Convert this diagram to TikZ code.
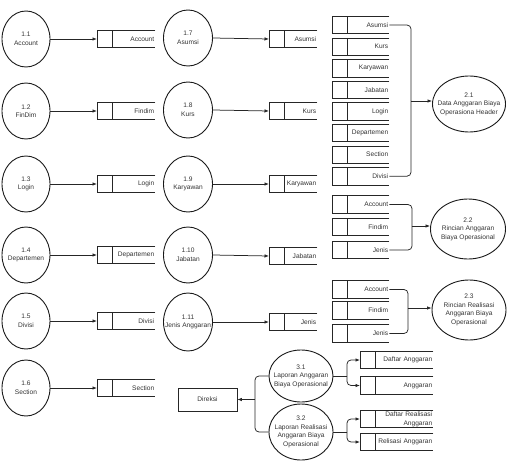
\documentclass[tikz,border=0pt]{standalone}
\usepackage{fontspec}
\setmainfont{Liberation Sans}
\usetikzlibrary{shapes.geometric,arrows.meta,calc}
\newcommand\lbl{\fontsize{6.6}{8.6}\selectfont}
\tikzset{
 ln/.style={draw=black!85, line width=0.75pt},
 rc/.style={rounded corners=4pt},
 arr/.style={ln, -{Latex[length=4.5pt,width=3.5pt]}},
 proc/.style={ellipse, draw=black!90, line width=0.9pt, inner sep=0pt},
 ptext/.style={inner sep=0pt, align=center, font=\lbl, text=black!80},
 storetext/.style={inner sep=1pt, minimum height=17pt, align=right, font=\lbl, text=black!80, anchor=west},
 extbox/.style={rectangle, draw=black!85, line width=0.75pt, minimum width=59pt, minimum height=23pt, font=\lbl, text=black!80},
}
\newcommand\dproc[6]{% name, x, y, w, h, text
 \node[proc, minimum width=#4pt, minimum height=#5pt] (#1) at (#2,#3) {};
 \node[ptext] (#1t) at (#1.center) {#6};
}
\newcommand\dstore[5]{%
 \node[storetext, text width=#4pt-2pt] (#1) at (#2,#3) {#5};
 \draw[ln] (#1.north east) -- (#1.north west) -- (#1.south west) -- (#1.south east);
 \draw[ln] ([xshift=15pt]#1.north west) -- ([xshift=15pt]#1.south west);
}
\begin{document}
\begin{tikzpicture}[x=1pt,y=-1pt]
\useasboundingbox (0,0) rectangle (510,465);
% left column processes
\dproc{c11}{26}{39}{48}{56}{1.1\\Account}
\dproc{c12}{26}{111}{48}{56}{1.2\\FinDim}
\dproc{c13}{26}{184}{48}{56}{1.3\\Login}
\dproc{c14}{26}{255}{48}{56}{1.4\\Departemen}
\dproc{c15}{26}{321}{48}{56}{1.5\\Divisi}
\dproc{c16}{26}{388}{48}{56}{1.6\\Section}
% middle column processes
\dproc{c17}{188}{38}{49}{56}{1.7\\Asumsi}
\dproc{c18}{188}{110}{49}{56}{1.8\\Kurs}
\dproc{c19}{188}{184}{49}{56}{1.9\\Karyawan}
\dproc{c110}{188}{255}{49}{56}{1.10\\Jabatan}
\dproc{c111}{188}{322}{49}{58}{1.11\\Jenis Anggaran}
% left stores
\dstore{s11}{97}{39}{58}{Account}
\dstore{s12}{97}{111}{58}{Findim}
\dstore{s13}{97}{184}{58}{Login}
\dstore{s14}{97}{255}{58}{Departemen}
\dstore{s15}{97}{321}{58}{Divisi}
\dstore{s16}{97}{388}{58}{Section}
% middle stores
\dstore{s17}{269}{39}{48}{Asumsi}
\dstore{s18}{269}{111}{48}{Kurs}
\dstore{s19}{269}{184}{48}{Karyawan}
\dstore{s110}{269}{256}{48}{Jabatan}
\dstore{s111}{269}{322}{48}{Jenis}
% arrows to stores
\foreach \a/\b in {c11/s11,c12/s12,c13/s13,c14/s14,c15/s15,c16/s16,c17/s17,c18/s18,c19/s19,c110/s110,c111/s111}
 \draw[arr] (\a.east) -- (\b.west);
% right group A
\dstore{ra1}{332}{25}{57}{Asumsi}
\dstore{ra2}{332}{46.6}{57}{Kurs}
\dstore{ra3}{332}{68.2}{57}{Karyawan}
\dstore{ra4}{332}{89.8}{57}{Jabatan}
\dstore{ra5}{332}{111.4}{57}{Login}
\dstore{ra6}{332}{133}{57}{Departemen}
\dstore{ra7}{332}{154.6}{57}{Section}
\dstore{ra8}{332}{176.2}{57}{Divisi}
\dproc{e21}{469}{104}{73}{56}{2.1\\Data Anggaran Biaya\\Operasiona Header}
\coordinate (jA) at (411,101);
\draw[ln,rc] (ra1.east) -| (jA);
\draw[ln,rc] (ra8.east) -| (jA);
\draw[arr] (jA) -- (jA -| e21.west);
% right group B
\dstore{rb1}{332}{204.5}{57}{Account}
\dstore{rb2}{332}{227}{57}{Findim}
\dstore{rb3}{332}{250}{57}{Jenis}
\dproc{e22}{468}{229}{75}{60}{2.2\\Rincian Anggaran\\Biaya Operasional}
\coordinate (jB) at (412,226);
\draw[ln,rc] (rb1.east) -| (jB);
\draw[ln,rc] (rb3.east) -| (jB);
\draw[arr] (jB) -- (jB -| e22.west);
% right group C
\dstore{rc1}{332}{289.5}{57}{Account}
\dstore{rc2}{332}{310.5}{57}{Findim}
\dstore{rc3}{332}{333.5}{57}{Jenis}
\dproc{e23}{469}{310}{74}{60}{2.3\\Rincian Realisasi\\Anggaran Biaya\\Operasional}
\coordinate (jC) at (408,308);
\draw[ln,rc] (rc1.east) -| (jC);
\draw[ln,rc] (rc3.east) -| (jC);
\draw[arr] (jC) -- (jC -| e23.west);
% bottom
\node[extbox] (dir) at (207.5,399.5) {Direksi};
\dproc{e31}{301}{376}{64}{52}{3.1\\Laporan Anggaran\\Biaya Operasional}
\dproc{e32}{301}{432}{64}{56}{3.2\\Laporan Realisasi\\Anggaran Biaya\\Operasional}
\coordinate (jD) at (255,399.5);
\draw[ln,rc] (e31.west) -| (jD);
\draw[ln,rc] (e32.west) -| (jD);
\draw[arr] (jD) -- (dir.east);
\dstore{da}{360}{360}{73}{Daftar Anggaran}
\dstore{ag}{360}{385.5}{73}{Anggaran}
\dstore{dr}{360}{419}{73}{Daftar Realisasi\\Anggaran}
\dstore{rl}{360}{442}{73}{Relisasi Anggaran}
\coordinate (j31) at (347,376);
\coordinate (j32) at (347,432);
\draw[ln] (e31.east) -- (j31);
\draw[arr,rc] (j31) |- (da.west);
\draw[arr,rc] (j31) |- (ag.west);
\draw[ln] (e32.east) -- (j32);
\draw[arr,rc] (j32) |- (dr.west);
\draw[arr,rc] (j32) |- (rl.west);
\end{tikzpicture}
\end{document}
